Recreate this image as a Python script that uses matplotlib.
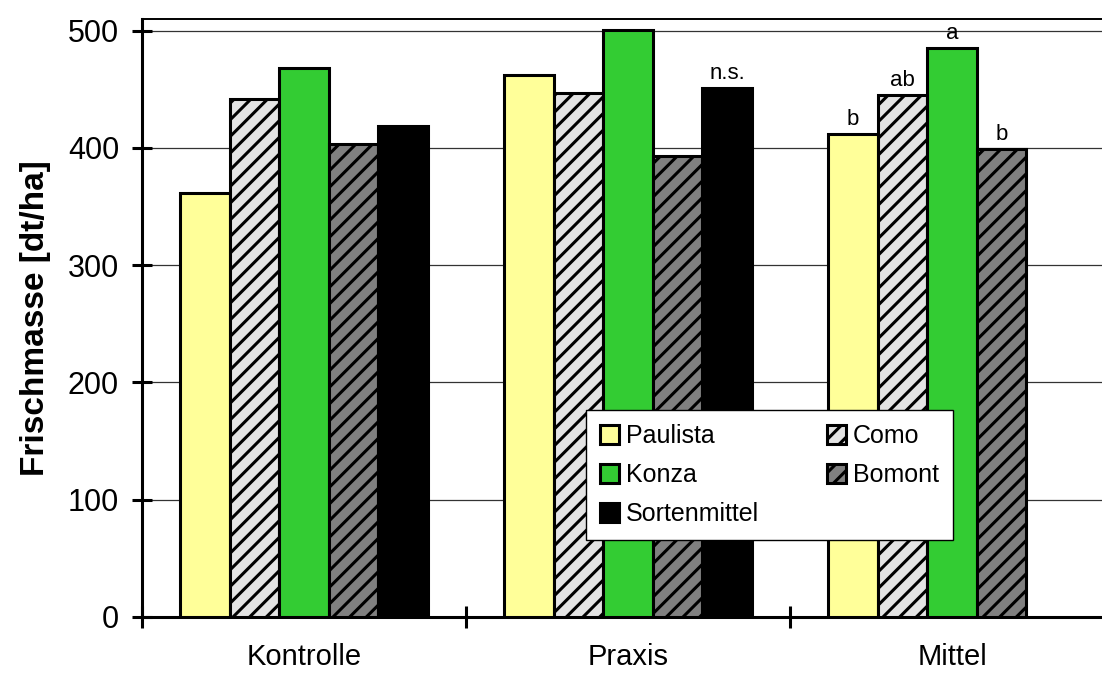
import numpy as np
import matplotlib
matplotlib.use("Agg")
import matplotlib.pyplot as plt

plt.rcParams['font.family'] = ['Liberation Sans', 'DejaVu Sans']
plt.rcParams['hatch.linewidth'] = 2.2

# data
categories = ['Kontrolle', 'Praxis', 'Mittel']
sorten = ['Paulista', 'Como', 'Konza', 'Bomont', 'Sortenmittel']
paulista = [362, 462, 412]
como = [442, 447, 445]
konza = [468, 501, 485]
bomont = [403, 393, 399]
sortenmittel = [419, 451, None]
values = [paulista, como, konza, bomont, sortenmittel]

# significance letters (category index, sorte index, text)
letters = [(1, 4, 'n.s.'), (2, 0, 'b'), (2, 1, 'ab'), (2, 2, 'a'), (2, 3, 'b')]

colors = ['#FFFF99', '#E3E3E3', '#33CC33', '#808080', '#000000']
hatches = [None, '//', None, '//', None]

fig = plt.figure(figsize=(11.02, 6.75), dpi=100)
ax = fig.add_axes([142 / 1102, 1 - 617 / 675, 972 / 1102, 598 / 675])

width = 0.1532
centers = np.arange(len(categories)) + 0.5
for i, (name, vals) in enumerate(zip(sorten, values)):
    xs = [c + (i - 2) * width for c, v in zip(centers, vals) if v is not None]
    hs = [v for v in vals if v is not None]
    ax.bar(xs, hs, width, color=colors[i], edgecolor='black', linewidth=2.2,
           hatch=hatches[i], label=name, zorder=3)

for ci, si, txt in letters:
    ax.annotate(txt, (centers[ci] + (si - 2) * width, values[si][ci]),
                xytext=(0, 3), textcoords='offset points',
                ha='center', va='bottom', fontsize=16)

ax.set_xlim(0, 3)
ax.set_ylim(0, 510)
ax.set_yticks([0, 100, 200, 300, 400, 500])
ax.yaxis.grid(True, color='#333333', linewidth=0.9, zorder=0)
ax.set_axisbelow(True)

ax.set_xticks([0, 1, 2, 3])
ax.set_xticklabels([])
ax.set_xticks(centers, minor=True)
ax.set_xticklabels(categories, minor=True)
ax.tick_params(axis='x', which='minor', length=0, pad=19, labelsize=21)
ax.tick_params(axis='x', which='major', direction='inout', length=16, width=2.2)
ax.tick_params(axis='y', direction='inout', length=15, width=2.2, pad=9, labelsize=22)

for s in ['left', 'bottom']:
    ax.spines[s].set_linewidth(2.2)
ax.spines['top'].set_linewidth(1.4)
ax.spines['right'].set_visible(False)

ax.set_ylabel('Frischmasse [dt/ha]', fontsize=24, fontweight='bold', labelpad=12)

handles, labels = ax.get_legend_handles_labels()
order = [0, 2, 4, 1, 3]
leg = ax.legend([handles[k] for k in order], [labels[k] for k in order],
                ncol=2, loc='lower left', bbox_to_anchor=(0.457, 0.129),
                borderaxespad=0, fontsize=18, fancybox=False, framealpha=1,
                edgecolor='black', handlelength=0.75, handleheight=0.75,
                handletextpad=0.3, columnspacing=2.7, labelspacing=0.6,
                borderpad=0.55)
leg.get_frame().set_linewidth(1.0)

fig.savefig('out.png', dpi=100)
